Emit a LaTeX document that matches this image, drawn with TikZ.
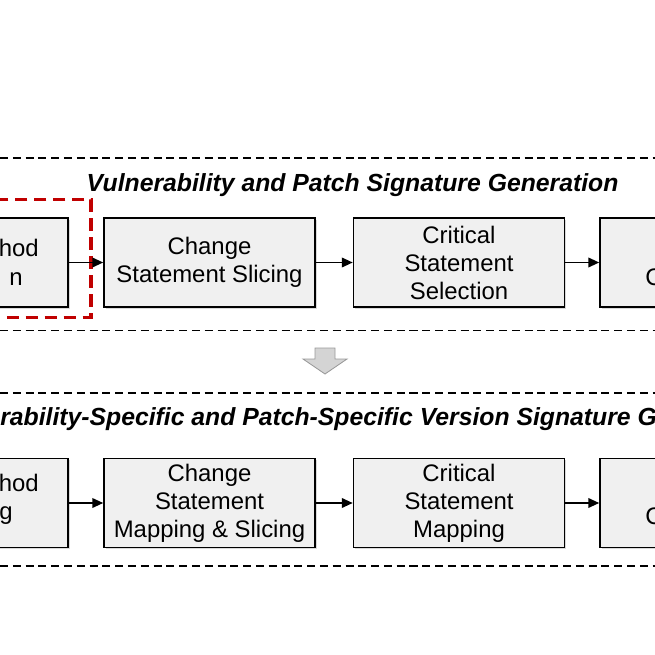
\documentclass[tikz,border=0pt]{standalone}
\usepackage{fontspec}
\setmainfont{Liberation Sans}
\usetikzlibrary{arrows.meta,shadows}
\definecolor{rougefonce}{RGB}{192,0,0}
\begin{document}
\begin{tikzpicture}
  [x=0.025cm, y=-0.025cm,
   etape/.style={
    draw=black,
    fill=black!6,
    rectangle,
    line width=1.1pt,
    minimum width=5.275cm,
    minimum height=2.225cm,
    align=center,
    font=\fontsize{17}{19.9}\selectfont,
    drop shadow={opacity=0.3, shadow xshift=1.3pt, shadow yshift=-1.3pt}},
   morceau/.style={
    inner sep=0pt,
    font=\fontsize{17}{19.9}\selectfont},
   titre/.style={
    inner sep=0pt,
    font=\fontsize{17.6}{20}\selectfont\bfseries\itshape},
   separation/.style={
    line width=1pt,
    dash pattern=on 5.7pt off 3.4pt},
   cadre/.style={
    draw=rougefonce,
    line width=2.8pt,
    dash pattern=on 9pt off 4.5pt},
   fleche/.style={
    -{Triangle[length=0.27cm,width=0.24cm]},
    line width=1.1pt}]

  \useasboundingbox (0,0) rectangle (655,655);
  \clip (0,0) rectangle (655,655);

  % signature generation
  \draw [separation] (0,158) -- (655,158);
  \node [titre, anchor=base] at (352.5,191.5) (titreA)
    {Vulnerability and Patch Signature Generation};

  \node [etape] at (-37.5,262.5) (vmethod) {};
  \node [morceau, anchor=base east] at (39,257) (vmethodA) {hod};
  \node [morceau, anchor=base east] at (23,285) (vmethodB) {n};
  \node [etape] at (209.5,262.5) (vslicing) {Change\\Statement Slicing};
  \node [etape] at (459,262.5) (vselection) {Critical\\Statement\\Selection};
  \node [etape] at (705.5,262.5) (vlast) {};
  \node [morceau, anchor=base west] at (645,285) (vlastA) {C};

  \draw [cadre] (-160,199.5) rectangle (91,317.5);

  \draw [separation] (0,330.5) -- (655,330.5);

  % grey arrow
  \draw [fill=black!17, draw=black!40, line width=0.6pt]
    (315,348) -- (335,348) -- (335,359) -- (347,359) -- (325,374)
    -- (303,359) -- (315,359) -- cycle;

  % version signature generation
  \draw [separation] (0,393) -- (655,393);
  \node [titre, anchor=base west] at (0,425.5) (titreB)
    {rability-Specific and Patch-Specific Version Signature G};

  \node [etape] at (-37.5,503) (smethod) {};
  \node [morceau, anchor=base east] at (39,491) (smethodA) {hod};
  \node [morceau, anchor=base east] at (13,519) (smethodB) {g};
  \node [etape] at (209.5,503) (sslicing) {Change\\Statement\\Mapping \& Slicing};
  \node [etape] at (459,503) (smapping) {Critical\\Statement\\Mapping};
  \node [etape] at (705.5,503) (slast) {};
  \node [morceau, anchor=base west] at (645,524) (slastA) {C};

  \draw [separation] (0,566) -- (655,566);

  \draw [fleche] (vmethod) -- (vslicing);
  \draw [fleche] (vslicing) -- (vselection);
  \draw [fleche] (vselection) -- (vlast);
  \draw [fleche] (smethod) -- (sslicing);
  \draw [fleche] (sslicing) -- (smapping);
  \draw [fleche] (smapping) -- (slast);
\end{tikzpicture}
\end{document}
